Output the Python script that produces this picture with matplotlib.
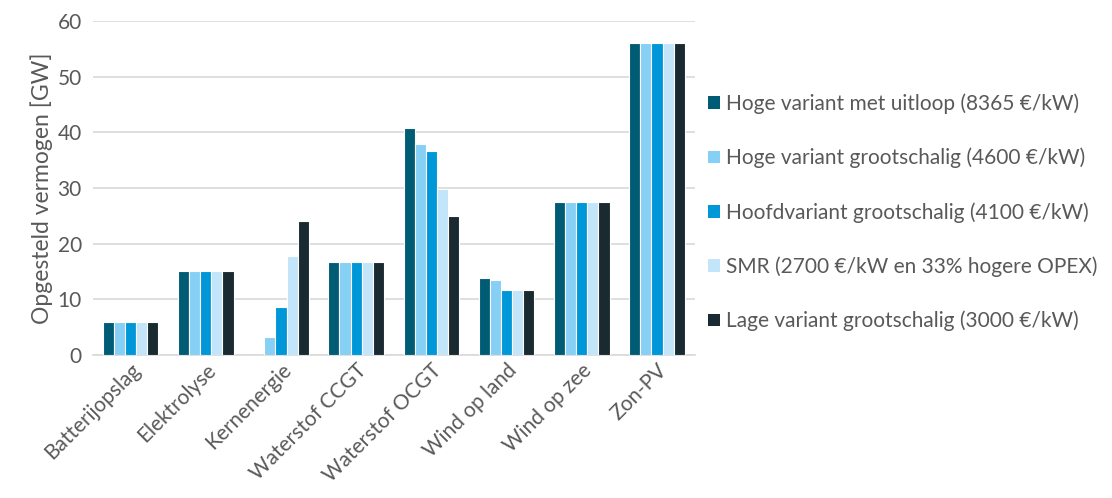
import numpy as np
import matplotlib.pyplot as plt
from matplotlib.patches import Patch

plt.rcParams['font.family'] = ['Lato', 'DejaVu Sans']

categories = ["Batterijopslag", "Elektrolyse", "Kernenergie", "Waterstof CCGT",
              "Waterstof OCGT", "Wind op land", "Wind op zee", "Zon-PV"]
series_names = ["Hoge variant met uitloop (8365 €/kW)",
                "Hoge variant grootschalig (4600 €/kW)",
                "Hoofdvariant grootschalig (4100 €/kW)",
                "SMR (2700 €/kW en 33% hogere OPEX)",
                "Lage variant grootschalig (3000 €/kW)"]
hoge_uitloop = [6.0, 15.1, 0.0, 16.8, 40.8, 13.9, 27.4, 56.0]
hoge_groot = [6.0, 15.1, 3.2, 16.8, 37.9, 13.5, 27.4, 56.0]
hoofd_groot = [6.0, 15.1, 8.7, 16.8, 36.6, 11.6, 27.4, 56.0]
smr = [6.0, 15.1, 17.7, 16.8, 29.8, 11.6, 27.4, 56.0]
lage_groot = [6.0, 15.1, 24.1, 16.8, 24.9, 11.6, 27.4, 56.0]

colors = ["#005b74", "#86cff5", "#0097d8", "#c2e5f9", "#1a2a31"]
values = [hoge_uitloop, hoge_groot, hoofd_groot, smr, lage_groot]

fig = plt.figure(figsize=(11.12, 4.98), dpi=100)
ax = fig.add_axes([0.0836, 0.287, 0.541, 0.671])

x = np.arange(len(categories))
w = 0.148
for i, (vals, c) in enumerate(zip(values, colors)):
    ax.bar(x + (i - 2) * w, vals, width=w, color=c, edgecolor="white",
           linewidth=0.8, zorder=3)

ax.set_xlim(-0.5, len(categories) - 0.5)
ax.set_ylim(0, 60)
ax.set_yticks(range(0, 61, 10))
ax.grid(axis="y", color="#d9d9d9", linewidth=1.2, zorder=0)
for s in ["top", "right", "left"]:
    ax.spines[s].set_visible(False)
ax.spines["bottom"].set_color("#d9d9d9")
ax.spines["bottom"].set_linewidth(1.2)
ax.tick_params(length=0, colors="#595959", labelsize=15)
ax.tick_params(axis="y", pad=8)
ax.set_xticks(x)
ax.set_xticklabels(categories, rotation=45, ha="right", rotation_mode="anchor")
ax.set_ylabel("Opgesteld vermogen [GW]", color="#595959", fontsize=16.5, labelpad=3)

handles = [Patch(facecolor=c) for c in colors]
fig.legend(handles, series_names, loc="upper left", bbox_to_anchor=(0.62, 0.85),
           frameon=False, fontsize=15, labelcolor="#595959", handlelength=0.55,
           handleheight=0.55, handletextpad=0.3, labelspacing=1.62)

fig.savefig("out.png", dpi=100)
